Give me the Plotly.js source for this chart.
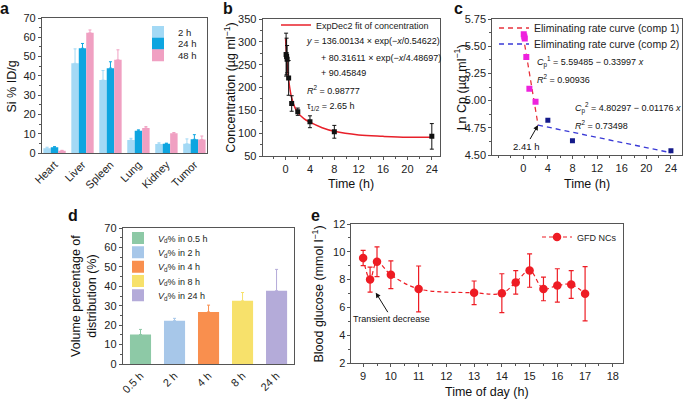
<!DOCTYPE html>
<html>
<head>
<meta charset="utf-8">
<script src="https://cdn.plot.ly/plotly-3.0.1.min.js"></script>
<style>html,body{margin:0;padding:0;background:#fff;}#chart{width:685px;height:400px;}</style>
</head>
<body>
<div id="chart"></div>
<script>
// ---------- Panel a: Si biodistribution ----------
const organs = ["Heart", "Liver", "Spleen", "Lung", "Kidney", "Tumor"];
const si2h = [2.5, 46.5, 37.8, 6.7, 4.7, 4.8];
const si2hErr = [0.5, 7.5, 5.0, 0.9, 0.6, 2.5];
const si24h = [3.0, 54.3, 44.0, 11.5, 4.8, 7.1];
const si24hErr = [0.3, 2.5, 3.3, 0.5, 0.3, 2.4];
const si48h = [1.2, 62.3, 48.3, 13.0, 10.3, 7.0];
const si48hErr = [0.2, 1.5, 5.2, 0.7, 0.3, 1.8];

// ---------- Panel b: plasma concentration ----------
const concTime = [0.083, 0.167, 0.25, 0.5, 1, 2, 4, 8, 24];
const concVal = [272, 268, 262, 221, 165, 147, 125, 103, 93];
const concErr = [47, 40, 30, 38, 17, 8, 13, 14, 28];
const fitTime = [0, 0.25, 0.5, 1, 1.5, 2, 3, 4, 6, 8, 12, 16, 20, 24];
const fitVal = [307, 252, 217, 177, 157, 145, 132, 124, 112, 104, 96, 93, 91, 91];

// ---------- Panel c: ln Cp ----------
const lnTime1 = [0.083, 0.167, 0.25, 0.5, 1, 2];
const lnVal1 = [5.61, 5.59, 5.57, 5.40, 5.11, 4.99];
const lnTime2 = [4, 8, 24];
const lnVal2 = [4.82, 4.63, 4.54];
const comp1Time = [0, 2.41];
const comp1Val = [5.595, 4.775];
const comp2Time = [2.41, 24];
const comp2Val = [4.775, 4.521];

// ---------- Panel d: volume of distribution ----------
const vdCats = ["0.5 h", "2 h", "4 h", "8 h", "24 h"];
const vdNames = ["<i>V</i><sub>d</sub>% in 0.5 h", "<i>V</i><sub>d</sub>% in 2 h", "<i>V</i><sub>d</sub>% in 4 h", "<i>V</i><sub>d</sub>% in 8 h", "<i>V</i><sub>d</sub>% in 24 h"];
const vdVal = [15.2, 22.3, 26.8, 32.5, 37.7];
const vdErr = [2.6, 1.2, 3.5, 4.3, 11.0];

// ---------- Panel e: blood glucose ----------
const gluTime = [9, 9.25, 9.5, 10, 11, 13, 14, 14.5, 15, 15.5, 16, 16.5, 17];
const gluVal = [9.55, 8.0, 9.28, 8.35, 7.33, 7.05, 7.02, 7.8, 8.65, 7.33, 7.58, 7.65, 6.98];
const gluErr = [0.55, 0.9, 1.07, 1.0, 1.65, 0.85, 1.4, 0.85, 1.2, 0.85, 1.2, 1.0, 1.95];

// ---------- styling ----------
const FONT = "Liberation Sans, Arial, sans-serif";
const W = 685, H = 400;
const px = v => v / W;
const py = v => 1 - v / H;
const colA = ["#a3d9f5", "#0ea5e0", "#f0a0c2"];
const colD = ["#8dc9a6", "#a7c7e9", "#f98f4e", "#f7e16b", "#b4abd9"];
const RED = "#ee1c24";

const traces = [];
const aSeries = [[si2h, si2hErr, "2 h"], [si24h, si24hErr, "24 h"], [si48h, si48hErr, "48 h"]];
aSeries.forEach((s, i) => {
  traces.push({
    type: "bar", x: organs, y: s[0], name: s[2], xaxis: "x", yaxis: "y",
    marker: {color: colA[i], line: {width: 0}},
    error_y: {type: "data", symmetric: false, array: s[1], arrayminus: s[1].map(() => 0), color: colA[i], thickness: 1, width: 1.5},
    legend: i === 0 ? "legend" : "legend" + (i + 1)
  });
});

traces.push({
  type: "scatter", mode: "lines", x: fitTime, y: fitVal, name: "ExpDec2 fit of concentration",
  xaxis: "x2", yaxis: "y2", line: {color: "#e8202a", width: 1.5, shape: "spline", smoothing: 1}, legend: "legend4"
});
traces.push({
  type: "scatter", mode: "markers", x: concTime, y: concVal, showlegend: false,
  xaxis: "x2", yaxis: "y2", marker: {symbol: "square", size: 5, color: "#111"},
  error_y: {type: "data", array: concErr, color: "#111", thickness: 1, width: 2}
});

traces.push({
  type: "scatter", mode: "lines", x: comp1Time, y: comp1Val, name: "Eliminating rate curve (comp 1)",
  xaxis: "x3", yaxis: "y3", line: {color: "#e8323c", width: 1.3, dash: "5px,4px"}, legend: "legend5"
});
traces.push({
  type: "scatter", mode: "lines", x: comp2Time, y: comp2Val, name: "Eliminating rate curve (comp 2)",
  xaxis: "x3", yaxis: "y3", line: {color: "#3a3ad6", width: 1.3, dash: "5px,4px"}, legend: "legend6"
});
traces.push({
  type: "scatter", mode: "markers", x: lnTime1, y: lnVal1, showlegend: false,
  xaxis: "x3", yaxis: "y3", marker: {symbol: "square", size: 6, color: "#ee22dd"}
});
traces.push({
  type: "scatter", mode: "markers", x: lnTime2, y: lnVal2, showlegend: false,
  xaxis: "x3", yaxis: "y3", marker: {symbol: "square", size: 5, color: "#141a8a"}
});

vdCats.forEach((c, i) => {
  traces.push({
    type: "bar", x: [c], y: [vdVal[i]], name: vdNames[i], xaxis: "x4", yaxis: "y4",
    width: 0.62, offset: -0.31,
    marker: {color: colD[i], line: {width: 0}},
    error_y: {type: "data", symmetric: false, array: [vdErr[i]], arrayminus: [0], color: colD[i], thickness: 1, width: 1.5},
    legend: "legend" + (7 + i)
  });
});

traces.push({
  type: "scatter", mode: "lines+markers", x: gluTime, y: gluVal, name: "GFD NCs",
  xaxis: "x5", yaxis: "y5", line: {color: RED, width: 1.2, dash: "4px,3px", shape: "spline", smoothing: 1},
  marker: {color: RED, size: 8.5},
  error_y: {type: "data", array: gluErr, color: RED, thickness: 1.2, width: 2.5},
  legend: "legend12"
});

const axBase = {
  showline: true, mirror: true, linecolor: "#555", linewidth: 1,
  ticks: "outside", ticklen: 3, tickcolor: "#555", tickwidth: 1,
  showgrid: false, zeroline: false, fixedrange: true,
  tickfont: {family: FONT, size: 11, color: "#222"}
};
const ax = o => Object.assign({}, axBase, o);
const minor = (d) => ({dtick: d, ticks: "outside", ticklen: 2, tickcolor: "#555", showgrid: false});

function legendAt(xLeft, yCenter, size) {
  return {
    x: px(xLeft), y: py(yCenter), xanchor: "left", yanchor: "middle",
    bgcolor: "rgba(0,0,0,0)", borderwidth: 0, itemwidth: 30,
    font: {family: FONT, size: size, color: "#222"}
  };
}

const layout = {
  width: W, height: H, margin: {l: 0, r: 0, t: 0, b: 0},
  paper_bgcolor: "#fff", plot_bgcolor: "#fff",
  font: {family: FONT, color: "#222"},
  barmode: "group", bargap: 0.2, bargroupgap: 0,
  showlegend: true,
  // panel a
  xaxis: ax({domain: [px(42), px(207)], anchor: "y", type: "category", range: [-0.45, 5.44], ticks: "", tickangle: -45}),
  yaxis: ax({domain: [py(153), py(18)], anchor: "x", range: [0, 70], dtick: 10, minor: minor(5)}),
  // panel b
  xaxis2: ax({domain: [px(263), px(441)], anchor: "y2", range: [-3.77, 25.4], tickvals: [0, 4, 8, 12, 16, 20, 24], minor: minor(2)}),
  yaxis2: ax({domain: [py(156), py(19)], anchor: "x2", range: [50, 350], dtick: 50, minor: minor(25)}),
  // panel c
  xaxis3: ax({domain: [px(493), px(683)], anchor: "y3", range: [-5.03, 25.8], tickvals: [0, 4, 8, 12, 16, 20, 24], minor: minor(2)}),
  yaxis3: ax({domain: [py(155), py(19)], anchor: "x3", range: [4.5, 5.75], dtick: 0.25, tickformat: ".2f", minor: minor(0.125)}),
  // panel d
  xaxis4: ax({domain: [px(123), px(294)], anchor: "y4", type: "category", range: [-0.52, 4.5], ticks: "", tickangle: -45}),
  yaxis4: ax({domain: [py(364), py(228)], anchor: "x4", range: [0, 70], dtick: 10, minor: minor(5)}),
  // panel e
  xaxis5: ax({domain: [px(352), px(624)], anchor: "y5", range: [8.58, 18.37], dtick: 1, minor: minor(0.5)}),
  yaxis5: ax({domain: [py(363), py(224)], anchor: "x5", range: [2, 12], dtick: 2, minor: minor(1)}),
  legend: legendAt(138, 32, 9.5),
  legend2: legendAt(138, 43.7, 9.5),
  legend3: legendAt(138, 55.3, 9.5),
  legend4: legendAt(276, 25, 9),
  legend5: legendAt(495, 28, 10.5),
  legend6: legendAt(495, 44, 10.5),
  legend7: legendAt(118, 238, 9),
  legend8: legendAt(118, 252.3, 9),
  legend9: legendAt(118, 266.7, 9),
  legend10: legendAt(118, 281, 9),
  legend11: legendAt(118, 295.3, 9),
  legend12: legendAt(537, 237, 9),
  annotations: []
};

const ann = layout.annotations;
function label(t, x, y, size, extra) {
  ann.push(Object.assign({text: t, x: px(x), y: py(y), xref: "paper", yref: "paper", showarrow: false,
    xanchor: "center", yanchor: "middle", font: {family: FONT, size: size, color: "#111"}}, extra || {}));
}
// panel letters
label("<b>a</b>", 5, 9, 16);
label("<b>b</b>", 228, 9, 16);
label("<b>c</b>", 459, 9, 16);
label("<b>d</b>", 73, 215, 16);
label("<b>e</b>", 316, 215, 16);
// axis titles
label("Si % ID/g", 12.5, 86, 12.5, {textangle: -90});
label("Concentration (µg ml<sup>−1</sup>)", 230, 88, 12.5, {textangle: -90});
label("Time (h)", 352, 184, 12.5);
label("Ln Cp (µg ml<sup>−1</sup>)", 461, 87, 12.5, {textangle: -90});
label("Time (h)", 588, 184, 12.5);
label("Volume percentage of<br>distribution (%)", 84, 296, 12.5, {textangle: -90});
label("Blood glucose (mmol l<sup>−1</sup>)", 318, 294, 12.5, {textangle: -90});
label("Time of day (h)", 488, 392, 12.5);
// panel b equation
const eq = (t, x, y) => label(t, x, y, 9, {xanchor: "left"});
eq("<i>y</i> = 136.00134 × exp(−<i>x</i>/0.54622)", 304, 41);
eq("+ 80.31611 × exp(−<i>x</i>/4.48697)", 319, 57.5);
eq("+ 90.45849", 319, 73.5);
eq("<i>R</i><sup>2</sup> = 0.98777", 305, 90);
eq("τ<sub>1/2</sub> = 2.65 h", 305, 106.5);
// panel c equations
const eqc = (t, x, y) => label(t, x, y, 9, {xanchor: "left"});
eqc("<i>C</i><sub>p</sub><sup>1</sup> = 5.59485 − 0.33997 <i>x</i>", 536, 62);
eqc("<i>R</i><sup>2</sup> = 0.90936", 536, 79);
eqc("<i>C</i><sub>p</sub><sup>2</sup> = 4.80297 − 0.01176 <i>x</i>", 574, 108);
eqc("<i>R</i><sup>2</sup> = 0.73498", 574, 125);
// arrows
ann.push({text: "2.41 h", x: 2.41, y: 4.775, xref: "x3", yref: "y3", showarrow: true,
  ax: -12, ay: 21, arrowhead: 2, arrowsize: 1, arrowwidth: 1, arrowcolor: "#111",
  font: {family: FONT, size: 9.5, color: "#111"}});
ann.push({text: "Transient decrease", x: 9.456, y: 7.06, xref: "x5", yref: "y5", showarrow: true,
  ax: 16, ay: 26, arrowhead: 2, arrowsize: 1, arrowwidth: 1, arrowcolor: "#111",
  font: {family: FONT, size: 9, color: "#111"}});

Plotly.newPlot("chart", traces, layout, {staticPlot: true, displayModeBar: false});
</script>
</body>
</html>
